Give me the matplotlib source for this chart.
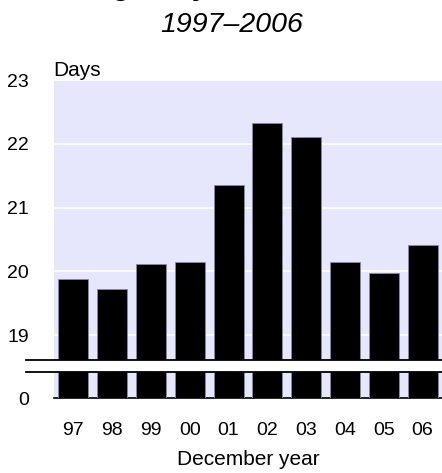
"""
Bar chart with broken y axis: days per December year, 1997-2006
"""

import matplotlib.pyplot as plt
from matplotlib.lines import Line2D

# data
years = ['97', '98', '99', '00', '01', '02', '03', '04', '05', '06']
days = [19.88, 19.73, 20.11, 20.14, 21.36, 22.33, 22.11, 20.14, 19.98, 20.42]
upper_ticks = [19, 20, 21, 22, 23]

BG = '#E6E6FC'
W, H = 442, 473

plt.rcParams['font.family'] = ['Liberation Sans', 'DejaVu Sans']

fig = plt.figure(figsize=(W / 100, H / 100), dpi=100)


def fx(px):
    return px / W


def fy(py):
    return 1 - py / H


# upper panel (19..23)
ax = fig.add_axes([fx(54), fy(360), fx(442 - 54), (360 - 80) / H])
# lower panel (0)
ax0 = fig.add_axes([fx(54), fy(398), fx(442 - 54), (398 - 372) / H])

x = list(range(len(years)))
for a in (ax, ax0):
    a.set_facecolor(BG)
    a.bar(x, days, width=0.775, color='black', edgecolor='#8a8aa8', linewidth=0.6, zorder=3)
    a.set_xlim(-0.5, len(years) - 0.5)
    for s in a.spines.values():
        s.set_visible(False)
    a.tick_params(length=0, labelsize=14, pad=18)

ax.set_ylim(18.61, 23)
ax.set_yticks(upper_ticks)
ax.set_xticks([])
ax.grid(axis='y', color='white', linewidth=1.2, zorder=1)

ax0.set_ylim(0, 26 / 63.77)
ax0.set_yticks([0])
ax0.set_xticks(x)
ax0.set_xticklabels(years)
ax0.tick_params(axis='x', pad=17)
ax0.spines['bottom'].set_visible(True)
ax0.spines['bottom'].set_color('black')
ax0.spines['bottom'].set_linewidth(1.2)
ax0.set_xlabel('December year', fontsize=15, labelpad=8)

# axis break lines
for yy in (360, 372):
    fig.add_artist(Line2D([fx(26), 1], [fy(yy), fy(yy)], color='black', linewidth=1.3))

fig.text(fx(53), fy(76), 'Days', fontsize=15, va='baseline', ha='left')
fig.text(fx(232), fy(25), '1997\u20132006', fontsize=20.5, style='italic', ha='center', va='center')
# first title line is cut off by the top of the image, only descenders show
fig.text(fx(190), fy(-6), 'Average days of stock', fontsize=22, fontweight='bold',
         ha='center', va='baseline')

fig.savefig('out.png', dpi=100)
